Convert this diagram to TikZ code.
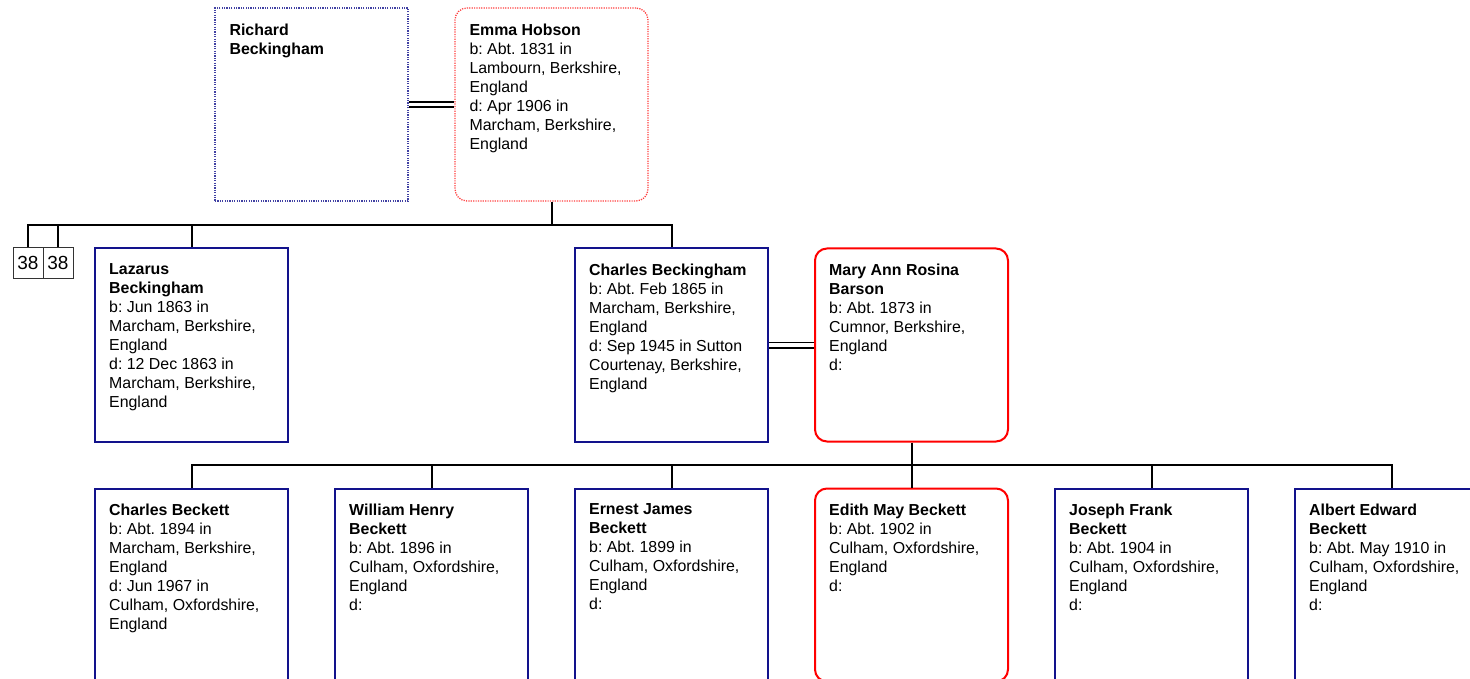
\documentclass[tikz,border=0pt]{standalone}
\usepackage{fontspec}
\setmainfont{Liberation Sans}
\usepackage{tikz}
\usetikzlibrary{positioning,calc}
\definecolor{malenavy}{RGB}{18,18,140}
\definecolor{femalered}{RGB}{255,0,0}
\frenchspacing

\tikzset{
  personbox/.style={draw, line width=2pt, minimum width=193pt, minimum height=193pt, inner sep=0pt},
  malebox/.style={personbox, draw=malenavy},
  femalebox/.style={personbox, draw=femalered, rounded corners=12pt},
  ghostmale/.style={malebox, line width=1.3pt, dash pattern=on 1.2pt off 1.2pt, draw=malenavy!80},
  ghostfemale/.style={femalebox, line width=1.3pt, dash pattern=on 1.2pt off 1.2pt, draw=femalered!75},
  info/.style={anchor=north west, inner sep=0pt, align=left, font={\fontsize{15.9}{19}\selectfont}},
  link/.style={line width=2pt, black},
  wed/.style={line width=1.9pt, double, double distance=3.2pt},
  refbox/.style={draw=black!80, line width=1pt, minimum width=30pt, minimum height=30pt, inner sep=0pt, font={\fontsize{19}{19}\selectfont}}
}

\begin{document}
\begin{tikzpicture}[x=1pt, y=-1pt]
    \useasboundingbox (0,0) rectangle (1470,679);

    % Parents
    \node[ghostmale] (richard) at (311.5,104.5) {};
    \node[ghostfemale] (emma) at (551.5,104.5) {};
    \node[info] (richard-t) at ([shift={(15,16)}]richard.north west) {\textbf{Richard}\\\textbf{Beckingham}};
    \node[info] (emma-t) at ([shift={(15,16)}]emma.north west) {\textbf{Emma Hobson}\\b: Abt. 1831 in\\Lambourn, Berkshire,\\England\\d: Apr 1906 in\\Marcham, Berkshire,\\England};
    \draw[wed] (richard.east) -- (emma.west);

    % Second row
    \node[refbox] (ref1) at (28,263) {38};
    \node[refbox] (ref2) at (58,263) {38};
    \node[malebox] (lazarus) at (191.5,345) {};
    \node[malebox] (charles) at (671.5,345) {};
    \node[femalebox] (mary) at (911.5,345) {};
    \node[info] (lazarus-t) at ([shift={(15,16)}]lazarus.north west) {\textbf{Lazarus}\\\textbf{Beckingham}\\b: Jun 1863 in\\Marcham, Berkshire,\\England\\d: 12 Dec 1863 in\\Marcham, Berkshire,\\England};
    \node[info] (charles-t) at ([shift={(15,16)}]charles.north west) {\textbf{Charles Beckingham}\\b: Abt. Feb 1865 in\\Marcham, Berkshire,\\England\\d: Sep 1945 in Sutton\\Courtenay, Berkshire,\\England};
    \node[info] (mary-t) at ([shift={(15,16)}]mary.north west) {\textbf{Mary Ann Rosina}\\\textbf{Barson}\\b: Abt. 1873 in\\Cumnor, Berkshire,\\England\\d:};
    \draw[wed] (charles.east) -- (mary.west);

    % Family bar of Richard and Emma
    \coordinate (fam1) at (551.5,225);
    \draw[link] (emma.south) -- (fam1);
    \draw[link] (ref1.north) |- (fam1);
    \draw[link] (ref2.north) |- (fam1);
    \draw[link] (lazarus.north) |- (fam1);
    \draw[link] (charles.north) |- (fam1);

    % Children of Charles and Mary
    \node[malebox] (cbeckett) at (191.5,585) {};
    \node[malebox] (william) at (431.5,585) {};
    \node[malebox] (ernest) at (671.5,585) {};
    \node[femalebox] (edith) at (911.5,585) {};
    \node[malebox] (joseph) at (1151.5,585) {};
    \node[malebox] (albert) at (1391.5,585) {};
    \node[info] (cbeckett-t) at ([shift={(15,16)}]cbeckett.north west) {\textbf{Charles Beckett}\\b: Abt. 1894 in\\Marcham, Berkshire,\\England\\d: Jun 1967 in\\Culham, Oxfordshire,\\England};
    \node[info] (william-t) at ([shift={(15,16)}]william.north west) {\textbf{William Henry}\\\textbf{Beckett}\\b: Abt. 1896 in\\Culham, Oxfordshire,\\England\\d:};
    \node[info] (ernest-t) at ([shift={(15,16)}]ernest.north west) {\textbf{Ernest James}\\\textbf{Beckett}\\b: Abt. 1899 in\\Culham, Oxfordshire,\\England\\d:};
    \node[info] (edith-t) at ([shift={(15,16)}]edith.north west) {\textbf{Edith May Beckett}\\b: Abt. 1902 in\\Culham, Oxfordshire,\\England\\d:};
    \node[info] (joseph-t) at ([shift={(15,16)}]joseph.north west) {\textbf{Joseph Frank}\\\textbf{Beckett}\\b: Abt. 1904 in\\Culham, Oxfordshire,\\England\\d:};
    \node[info] (albert-t) at ([shift={(15,16)}]albert.north west) {\textbf{Albert Edward}\\\textbf{Beckett}\\b: Abt. May 1910 in\\Culham, Oxfordshire,\\England\\d:};

    % Family bar of Charles and Mary
    \coordinate (fam2) at (911.5,465);
    \draw[link] (mary.south) -- (fam2);
    \foreach \kid in {cbeckett,william,ernest,edith,joseph,albert}
        \draw[link] (\kid.north) |- (fam2);
\end{tikzpicture}
\end{document}
